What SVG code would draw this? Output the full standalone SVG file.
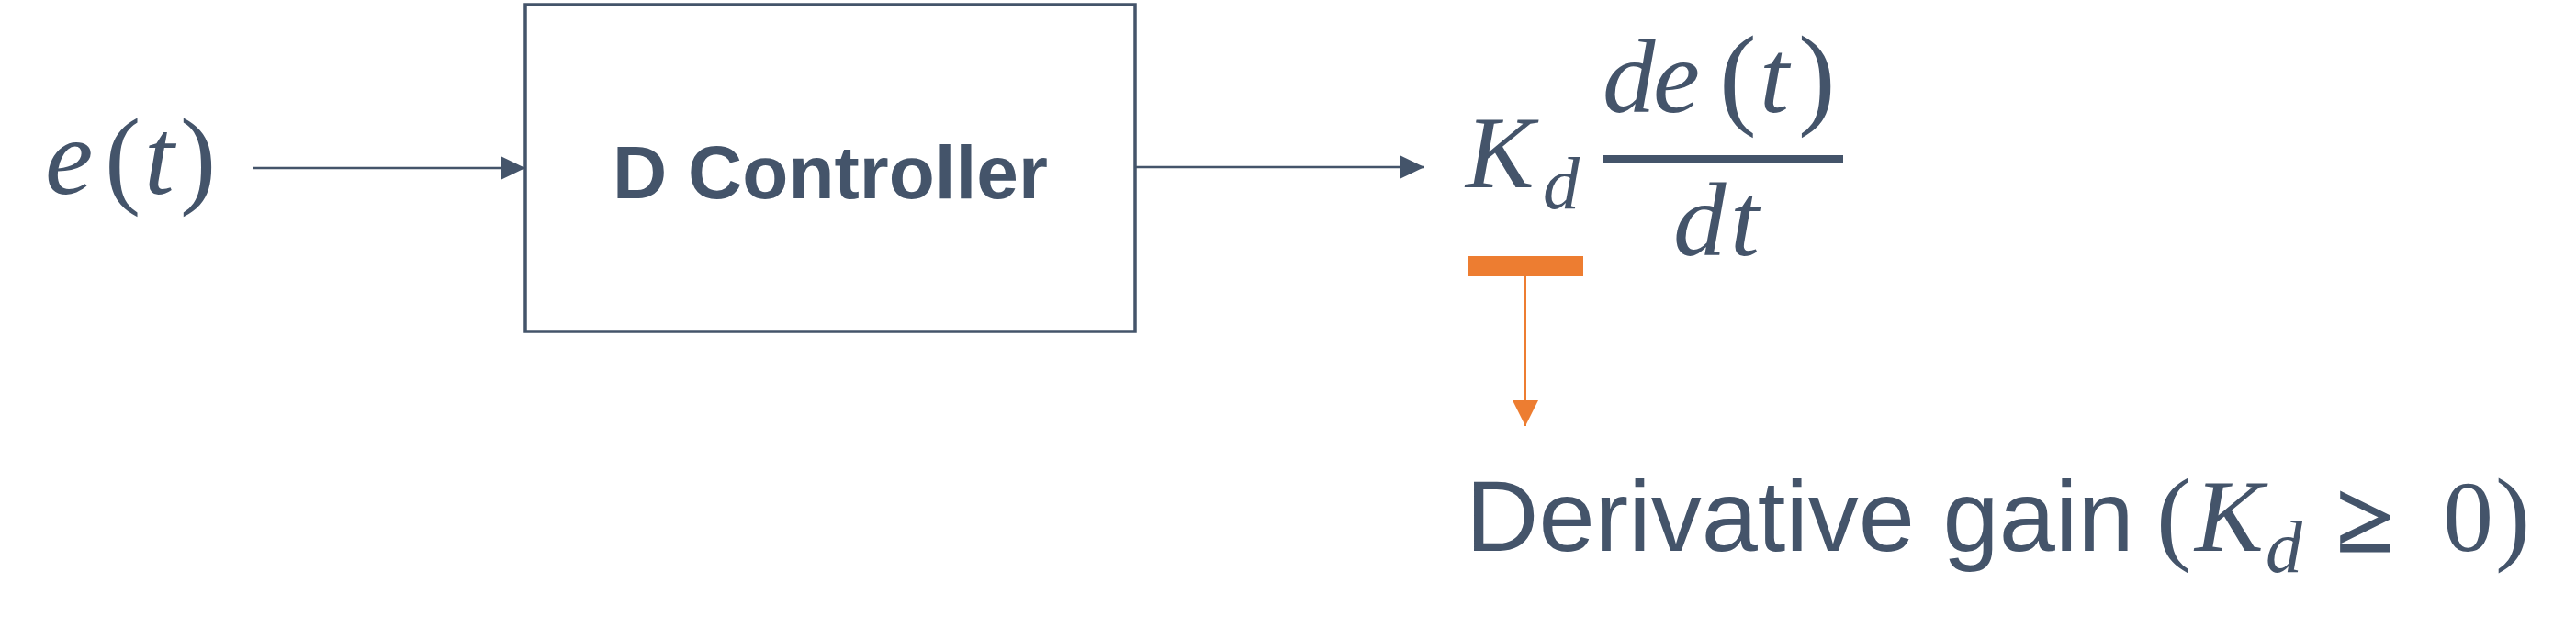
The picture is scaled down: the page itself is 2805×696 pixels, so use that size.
<svg xmlns="http://www.w3.org/2000/svg" width="2805" height="696" viewBox="0 0 2805 696">
<style>
.m{font-family:"Liberation Serif","DejaVu Serif",serif;font-style:italic;fill:#44546A}
.u{font-family:"Liberation Serif","DejaVu Serif",serif;font-style:normal;fill:#44546A}
.lbl{font-family:"Liberation Sans",Arial,sans-serif;fill:#44546A}
.conn{stroke:#44546A;stroke-width:2.5;fill:none}
.oconn{stroke:#ED7D31;stroke-width:2;fill:none}
</style>
<defs>
<marker id="ah" markerUnits="userSpaceOnUse" markerWidth="28" markerHeight="28" refX="27" refY="13" orient="auto">
<path d="M0,0 L27,13 L0,26 z" fill="#44546A"/>
</marker>
<marker id="oah" markerUnits="userSpaceOnUse" markerWidth="30" markerHeight="30" refX="28" refY="14" orient="auto">
<path d="M0,0 L28,14 L0,28 z" fill="#ED7D31"/>
</marker>
</defs>
<rect width="2805" height="696" fill="#FFFFFF"/>
<g id="connectors">
<line class="conn" x1="275" y1="183" x2="572" y2="183" marker-end="url(#ah)"/>
<line class="conn" x1="1237" y1="182" x2="1551" y2="182" marker-end="url(#ah)"/>
<line class="oconn" x1="1661" y1="301" x2="1661" y2="464" marker-end="url(#oah)"/>
</g>
<g id="input_et">
<text class="m" x="49" y="211" font-size="118">e</text>
<text class="u" x="114" y="211" font-size="118">(</text>
<text class="m" x="157" y="211" font-size="118">t</text>
<text class="u" x="196" y="211" font-size="118">)</text>
</g>
<g id="d_controller">
<rect x="572" y="5" width="664" height="356" fill="none" stroke="#44546A" stroke-width="3.5"/>
<text class="lbl" x="904" y="216" font-size="82" font-weight="bold" text-anchor="middle">D Controller</text>
</g>
<g id="output_expr">
<text class="m" x="1596" y="204" font-size="112">K</text>
<text class="m" x="1680" y="227" font-size="80">d</text>
<text class="m" x="1745" y="122" font-size="115">d</text>
<text class="m" x="1800" y="122" font-size="115">e</text>
<text class="u" x="1872" y="124" font-size="122">(</text>
<text class="m" x="1916" y="122" font-size="115">t</text>
<text class="u" x="1958" y="124" font-size="122">)</text>
<rect x="1745" y="169" width="262" height="8" fill="#44546A"/>
<text class="m" x="1822" y="278" font-size="115">d</text>
<text class="m" x="1884" y="278" font-size="115">t</text>
</g>
<g id="gain_marker">
<rect x="1598" y="279" width="126" height="22" fill="#ED7D31"/>
</g>
<g id="gain_label">
<text class="lbl" x="1596" y="600" font-size="110">Derivative gain</text>
<text class="u" x="2348" y="600" font-size="115">(</text>
<text class="m" x="2390" y="600" font-size="112">K</text>
<text class="m" x="2467" y="623" font-size="80">d</text>
<text class="u" x="2545" y="600" font-size="110" stroke="#44546A" stroke-width="3">≥</text>
<text class="u" x="2660" y="600" font-size="110">0</text>
<text class="u" x="2717" y="600" font-size="115">)</text>
</g>
</svg>
